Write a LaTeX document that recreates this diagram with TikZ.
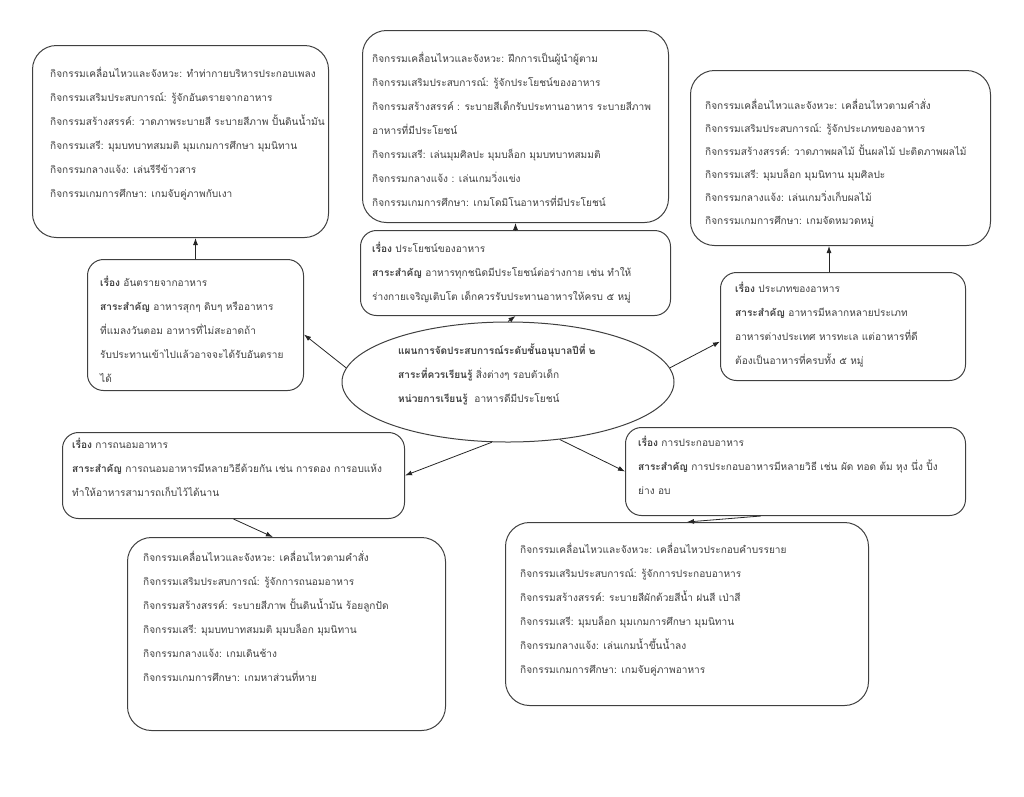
\documentclass[tikz,border=0pt]{standalone}
\usepackage{fontspec}
\newfontfamily\thaifont[Script=Thai]{Loma}
\usetikzlibrary{arrows.meta,shapes.geometric}

\begin{document}
\begin{tikzpicture}[x=1pt, y=-1pt,
  font=\thaifont\fontsize{10.1}{24}\selectfont, >={Latex[length=7pt,width=5pt]},
  box/.style={draw=black!75, line width=1pt, rounded corners=24pt, anchor=north west, inner sep=0pt},
  topic/.style={box, rounded corners=16pt},
  txt/.style={anchor=north west, align=left, inner sep=0pt, text=black!75},
  link/.style={->, line width=0.8pt, black!85}]
\useasboundingbox (0,0) rectangle (1024,796);
% centre
\node[draw=black!75, line width=1pt, ellipse, minimum width=332pt, minimum height=120pt] (plan) at (508,382) {};
\node[txt] (plantxt) at (398,344) {\textbf{แผนการจัดประสบการณ์ระดับชั้นอนุบาลปีที่ ๒}\\
  \textbf{สาระที่ควรเรียนรู้} สิ่งต่างๆ รอบตัวเด็ก\\
  \textbf{หน่วยการเรียนรู้}\ \ อาหารดีมีประโยชน์};
% topics
\node[topic, minimum width=216pt, minimum height=131pt] (ltop) at (87,259) {};
\node[txt] at (100,276) {\textbf{เรื่อง} อันตรายจากอาหาร\\
  \textbf{สาระสำคัญ} อาหารสุกๆ ดิบๆ หรืออาหาร\\
  ที่แมลงวันตอม อาหารที่ไม่สะอาดถ้า\\
  รับประทานเข้าไปแล้วอาจจะได้รับอันตราย\\
  ได้};
\node[topic, minimum width=310pt, minimum height=85pt] (ctop) at (360,230) {};
\node[txt] at (372,242) {\textbf{เรื่อง} ประโยชน์ของอาหาร\\
  \textbf{สาระสำคัญ} อาหารทุกชนิดมีประโยชน์ต่อร่างกาย เช่น ทำให้\\
  ร่างกายเจริญเติบโต เด็กควรรับประทานอาหารให้ครบ ๕ หมู่};
\node[topic, minimum width=245pt, minimum height=108pt] (rtop) at (720,272) {};
\node[txt] at (735,282) {\textbf{เรื่อง} ประเภทของอาหาร\\
  \textbf{สาระสำคัญ} อาหารมีหลากหลายประเภท\\
  อาหารต่างประเทศ หารทะเล แต่อาหารที่ดี\\
  ต้องเป็นอาหารที่ครบทั้ง ๕ หมู่};
\node[topic, minimum width=342pt, minimum height=86pt] (bltop) at (62,432) {};
\node[txt] at (72,438) {\textbf{เรื่อง} การถนอมอาหาร\\
  \textbf{สาระสำคัญ} การถนอมอาหารมีหลายวิธีด้วยกัน เช่น การดอง การอบแห้ง\\
  ทำให้อาหารสามารถเก็บไว้ได้นาน};
\node[topic, minimum width=340pt, minimum height=88pt] (brtop) at (625,427) {};
\node[txt] at (638,436) {\textbf{เรื่อง} การประกอบอาหาร\\
  \textbf{สาระสำคัญ} การประกอบอาหารมีหลายวิธี เช่น ผัด ทอด ต้ม หุง นึ่ง ปิ้ง\\
  ย่าง อบ};
% activities
\node[box, minimum width=296pt, minimum height=192pt] (tlact) at (32,45) {};
\node[txt] at (50,67) {กิจกรรมเคลื่อนไหวและจังหวะ: ทำท่ากายบริหารประกอบเพลง\\
  กิจกรรมเสริมประสบการณ์: รู้จักอันตรายจากอาหาร\\
  กิจกรรมสร้างสรรค์: วาดภาพระบายสี ระบายสีภาพ ปั้นดินน้ำมัน\\
  กิจกรรมเสรี: มุมบทบาทสมมติ มุมเกมการศึกษา มุมนิทาน\\
  กิจกรรมกลางแจ้ง: เล่นรีรีข้าวสาร\\
  กิจกรรมเกมการศึกษา: เกมจับคู่ภาพกับเงา};
\node[box, minimum width=306pt, minimum height=192pt] (tcact) at (362,30) {};
\node[txt] at (372,52) {กิจกรรมเคลื่อนไหวและจังหวะ: ฝึกการเป็นผู้นำผู้ตาม\\
  กิจกรรมเสริมประสบการณ์: รู้จักประโยชน์ของอาหาร\\
  กิจกรรมสร้างสรรค์ : ระบายสีเด็กรับประทานอาหาร ระบายสีภาพ\\
  อาหารที่มีประโยชน์\\
  กิจกรรมเสรี: เล่นมุมศิลปะ มุมบล็อก มุมบทบาทสมมติ\\
  กิจกรรมกลางแจ้ง : เล่นเกมวิ่งแข่ง\\
  กิจกรรมเกมการศึกษา: เกมโดมิโนอาหารที่มีประโยชน์};
\node[box, minimum width=300pt, minimum height=175pt] (tract) at (690,70) {};
\node[txt, font=\thaifont\fontsize{10.1}{23}\selectfont] at (705,99) {กิจกรรมเคลื่อนไหวและจังหวะ: เคลื่อนไหวตามคำสั่ง\\
  กิจกรรมเสริมประสบการณ์: รู้จักประเภทของอาหาร\\
  กิจกรรมสร้างสรรค์: วาดภาพผลไม้ ปั้นผลไม้ ปะติดภาพผลไม้\\
  กิจกรรมเสรี: มุมบล็อก มุมนิทาน มุมศิลปะ\\
  กิจกรรมกลางแจ้ง: เล่นเกมวิ่งเก็บผลไม้\\
  กิจกรรมเกมการศึกษา: เกมจัดหมวดหมู่};
\node[box, minimum width=318pt, minimum height=193pt] (blact) at (127,537) {};
\node[txt] at (143,551) {กิจกรรมเคลื่อนไหวและจังหวะ: เคลื่อนไหวตามคำสั่ง\\
  กิจกรรมเสริมประสบการณ์: รู้จักการถนอมอาหาร\\
  กิจกรรมสร้างสรรค์: ระบายสีภาพ ปั้นดินน้ำมัน ร้อยลูกปัด\\
  กิจกรรมเสรี: มุมบทบาทสมมติ มุมบล็อก มุมนิทาน\\
  กิจกรรมกลางแจ้ง: เกมเดินช้าง\\
  กิจกรรมเกมการศึกษา: เกมหาส่วนที่หาย};
\node[box, minimum width=363pt, minimum height=183pt] (bract) at (505,522) {};
\node[txt] at (520,543) {กิจกรรมเคลื่อนไหวและจังหวะ: เคลื่อนไหวประกอบคำบรรยาย\\
  กิจกรรมเสริมประสบการณ์: รู้จักการประกอบอาหาร\\
  กิจกรรมสร้างสรรค์: ระบายสีผักด้วยสีน้ำ ฝนสี เป่าสี\\
  กิจกรรมเสรี: มุมบล็อก มุมเกมการศึกษา มุมนิทาน\\
  กิจกรรมกลางแจ้ง: เล่นเกมน้ำขึ้นน้ำลง\\
  กิจกรรมเกมการศึกษา: เกมจับคู่ภาพอาหาร};
% links
\draw[link] (plan.175) -- (ltop.-5);
\draw[link] (plan.north) -- (ctop.south);
\draw[link] (plan.5) -- (rtop.-173);
\draw[link] (plan.-105) -- (bltop.east);
\draw[link] (plan.-48) -- (brtop.west);
\draw[link] (ltop.north) -- (ltop.north |- tlact.south);
\draw[link] (ctop.north) -- (ctop.north |- tcact.south);
\draw[link] ([xshift=-14pt]rtop.north) -- ([xshift=-14pt]rtop.north |- tract.south);
\draw[link] (bltop.south) -- (blact.98);
\draw[link] (brtop.-128) -- (bract.north);
\end{tikzpicture}
\end{document}
